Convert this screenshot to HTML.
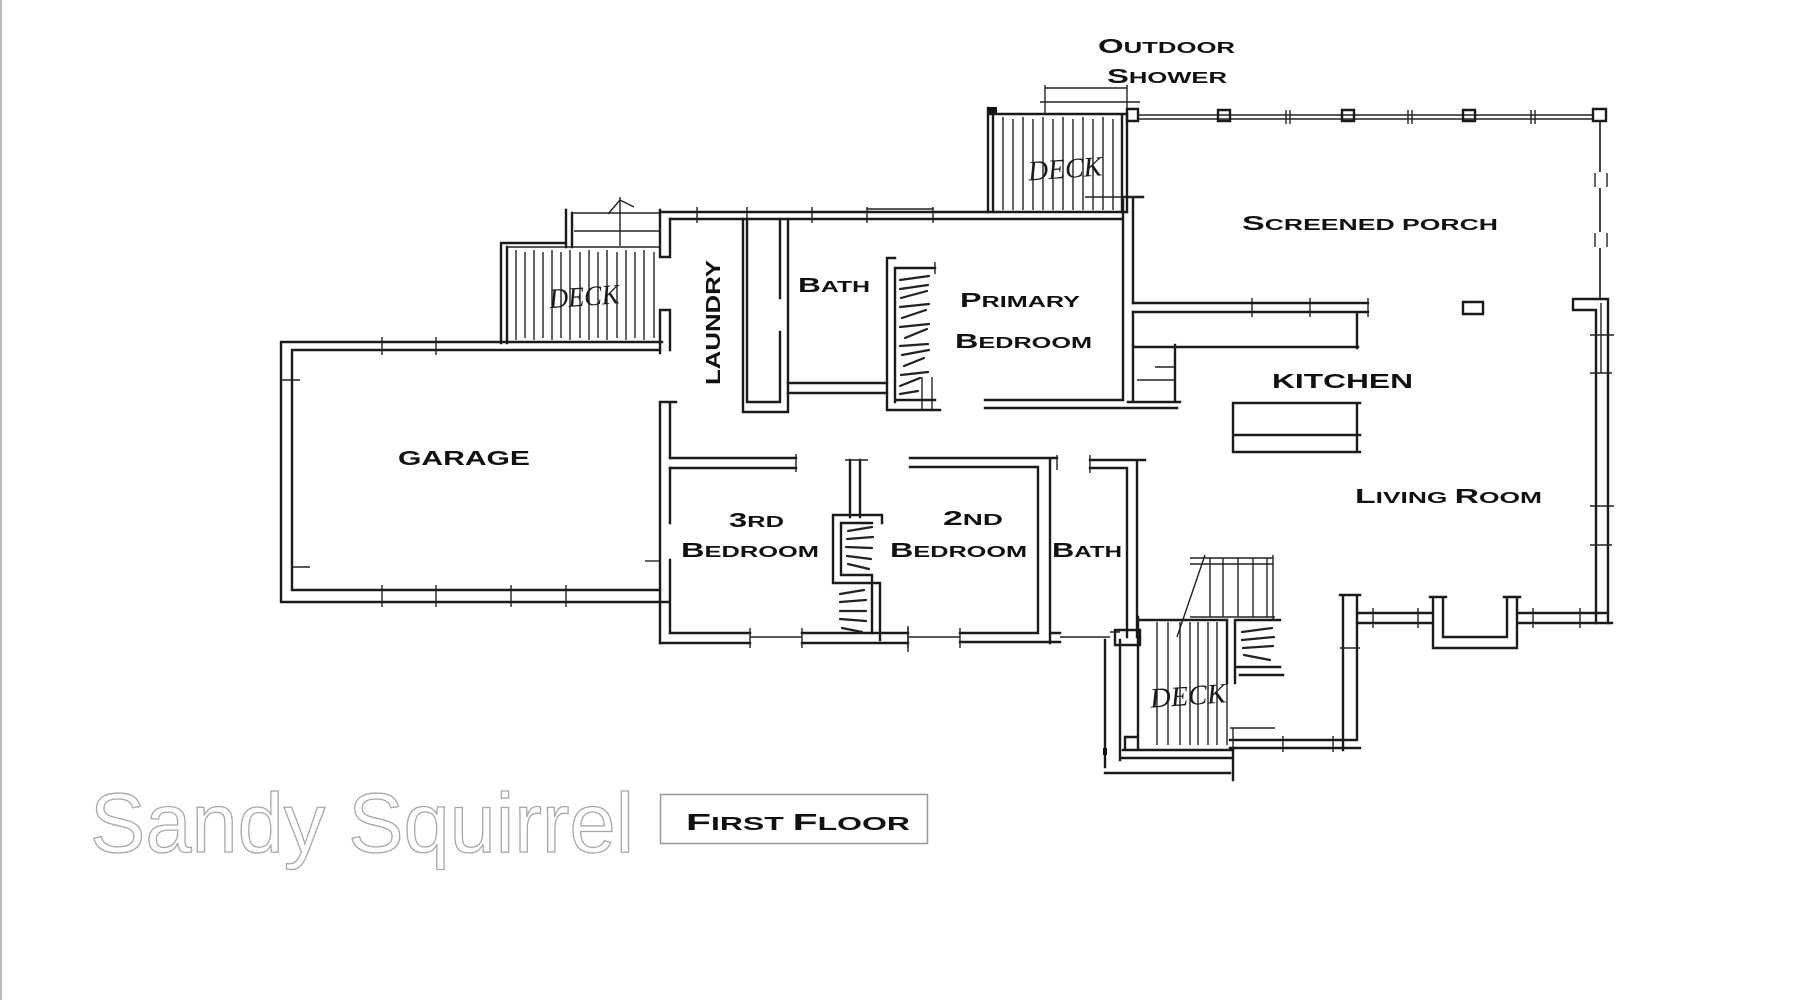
<!DOCTYPE html>
<html><head><meta charset="utf-8"><style>
html,body{margin:0;padding:0;background:#fff}
svg{display:block}
.w{stroke:#1a1a1a;stroke-width:2.4;fill:none;stroke-linecap:square}
.t{stroke:#222;stroke-width:1.4;fill:none}
.h{stroke:#222;stroke-width:2.2;fill:none;stroke-linecap:round}
.lb{font-family:"Liberation Sans",sans-serif;font-weight:bold;fill:#111}
.dk{font-family:"Liberation Serif",serif;font-style:italic;font-weight:normal;fill:#1a1a1a}
</style></head><body>
<svg width="1800" height="1000" viewBox="0 0 1800 1000" xmlns="http://www.w3.org/2000/svg">
<rect x="0" y="0" width="1800" height="1000" fill="#fff"/>
<line x1="1" y1="0" x2="1" y2="1000" stroke="#bbb" stroke-width="2"/>

<!-- GARAGE -->
<path class="w" d="M281 342 H662 M292 350 H660 M281 342 V602 M292 350 V590 M281 602 H668 M292 590 H660"/>
<path class="t" d="M382 337 V355 M436 337 V355 M382 585 V607 M436 585 V607 M511 585 V607 M566 585 V607 M281 380 H300 M293 567 H310"/>

<!-- DECK 1 -->
<path class="w" d="M501 243 V343 M507 247 V343 M501 243 H566 M566 210 V247 M572 213 V247"/>
<path class="t" d="M507 247 H660 M572 213 H660 M574 231 H660 M620 197 V246 M608 214 L620 200 L634 207"/>
<path class="t" d="M516 250 V340 M525 252 V338 M534 250 V340 M543 252 V338 M552 250 V340 M561 252 V338 M570 250 V340 M580 252 V338 M589 250 V340 M598 252 V338 M607 250 V340 M617 252 V338 M626 250 V340 M635 252 V338 M644 250 V340 M654 252 V338"/>
<text class="dk" x="549" y="306" font-size="28" textLength="70" lengthAdjust="spacingAndGlyphs" transform="rotate(-4 580 295)">DECK</text>

<!-- LAUNDRY side wall -->
<path class="w" d="M660 210 V257 M670 219 V257 M660 257 H670 M660 310 H670 M660 310 V353 M670 310 V350"/>
<path class="w" d="M660 402 V643 M670 402 V458 M660 402 H676 M670 468 V523 M670 560 V633"/>
<path class="t" d="M645 561 H660"/>

<!-- TOP WALL -->
<path class="w" d="M660 212 H1127 M670 219 H1123"/>
<path class="t" d="M697 207 V223 M747 207 V223 M812 207 V223 M867 207 V223 M933 207 V223 M867 209 H933"/>

<!-- Laundry closet / bath -->
<path class="w" d="M743 219 V412 M747 219 V402 M743 412 H788 M747 402 H780 M780 219 V298 M780 332 V402 M788 219 V412"/>
<path class="w" d="M788 383 H887 M788 393 H887"/>
<!-- primary closet -->
<path class="w" d="M887 258 V410 M895 268 V402 M887 258 H895 M895 268 H935 M887 410 H940 M895 400 H935"/>
<path class="t" d="M935 262 V274 M922 377 V410 M932 377 V410"/>
<path class="h" d="M900 280 L929 276 M900 289 L928 285 M901 298 L927 291 M900 307 L929 304 M902 318 L926 310 M900 327 L929 324 M905 338 L927 329 M900 346 L928 344 M902 355 L929 350 M904 366 L924 358 M901 375 L928 372 M900 386 L920 378 M900 394 L918 391"/>
<!-- primary bottom & right -->
<path class="w" d="M985 400 H1123 M985 408 H1177 M1123 200 V400 M1133 197 V303 M1133 312 V345 M1123 197 H1143"/>
<!-- porch/kitchen wall -->
<path class="w" d="M1133 303 H1368 M1133 312 H1368 M1357 312 V348 M1133 347 H1358"/>
<path class="t" d="M1252 298 V317 M1310 298 V317 M1368 298 V317"/>
<path class="w" d="M1133 345 V402 M1175 345 V402 M1128 402 H1180"/>
<path class="t" d="M1155 367 H1175 M1137 380 H1175"/>
<!-- island -->
<path class="w" d="M1233 403 H1360 M1233 452 H1360 M1233 403 V452 M1357 403 V452 M1233 435 H1360"/>

<!-- DECK 2 -->
<rect x="989" y="107" width="8" height="7" fill="#111"/>
<path class="w" d="M988 108 V212 M993 114 V212 M988 114 H1127 M1122 114 V212 M1127 114 V212"/>
<path class="t" d="M1003 117 V210 M1013 119 V210 M1023 117 V210 M1033 119 V210 M1043 117 V210 M1053 119 V210 M1063 117 V210 M1073 119 V210 M1083 117 V210 M1093 119 V210 M1103 117 V210 M1113 119 V210"/>
<path class="t" d="M1045 85 V114 M1127 85 V114 M1045 88 H1127 M1040 102 H1140 M1085 197 H1143"/>
<text class="dk" x="1028" y="178" font-size="28" textLength="74" lengthAdjust="spacingAndGlyphs" transform="rotate(-4 1065 168)">DECK</text>

<!-- PORCH -->
<path class="t" d="M1138 115 H1593 M1138 119 H1593"/>
<path class="w" d="M1127 109 h11 v12 h-11 z M1218 110 h12 v11 h-12 z M1342 110 h12 v11 h-12 z M1463 110 h12 v11 h-12 z M1593 109 h13 v12 h-13 z"/>
<path class="t" d="M1286 110 V124 M1290 110 V124 M1408 110 V124 M1412 110 V124 M1531 110 V124 M1535 110 V124"/>
<path d="M1600 121 V172 M1600 188 V232 M1600 248 V300" stroke="#1a1a1a" stroke-width="1.6" fill="none"/>
<path class="t" d="M1595 173 V187 M1607 173 V187 M1595 233 V247 M1607 233 V247"/>
<path class="w" d="M1463 302 h20 v12 h-20 z"/>
<path class="w" d="M1573 299 H1608 M1573 310 H1596 M1573 299 V310 M1596 310 V623 M1608 299 V623"/>
<path class="t" d="M1601 303 V373 M1590 335 H1614 M1590 373 H1612 M1590 506 H1614 M1590 545 H1612"/>

<!-- LIVING bottom -->
<path class="w" d="M1357 613 H1433 M1357 623 H1433 M1433 597 V648 H1517 V597 M1443 597 V637 H1507 V597 M1430 597 H1446 M1504 597 H1520 M1517 613 H1608 M1517 623 H1612"/>
<path class="t" d="M1373 608 V628 M1418 608 V628 M1533 608 V628 M1580 608 V628"/>
<path class="w" d="M1343 595 V750 M1357 595 V740 M1340 595 H1360 M1230 740 H1357 M1230 748 H1360"/>
<path class="t" d="M1283 736 V752 M1333 736 V752 M1230 728 H1275 M1233 728 V750 M1340 648 H1360"/>

<!-- DECK 3 -->
<path class="w" d="M1138 617 V743 M1138 620 H1227 M1123 750 H1233 M1125 737 h13 v13 h-13 z"/>
<path class="t" d="M1157 622 V745 M1168 622 V745 M1180 622 V745 M1190 622 V745 M1198 622 V745 M1208 622 V745 M1217 622 V745 M1227 620 V745"/>
<path class="t" d="M1190 558 H1273 M1190 564 H1273 M1210 558 V617 M1223 558 V617 M1238 558 V617 M1253 558 V617 M1267 558 V617 M1190 617 H1275 M1273 555 V620 M1205 555 L1177 637"/>
<path class="w" d="M1227 620 V683 M1235 620 V683 M1235 620 H1280 M1235 667 H1280 M1240 675 H1283"/>
<path class="h" d="M1242 632 L1272 628 M1242 640 L1274 637 M1243 648 L1273 646 M1244 655 L1270 660"/>
<text class="dk" x="1150" y="705" font-size="28" textLength="76" lengthAdjust="spacingAndGlyphs" transform="rotate(-4 1188 695)">DECK</text>
<path class="w" d="M1120 640 V760 M1105 640 V767 M1120 758 H1233 M1105 773 H1230 M1233 748 V780"/>
<rect x="1103" y="748" width="4" height="7" fill="#111"/>

<!-- 2nd BATH -->
<path class="w" d="M1090 460 H1145 M1090 468 H1127 M1127 468 V637 M1137 460 V637 M1115 630 H1140 V645 H1115 Z"/>
<path class="t" d="M1090 455 V473 M1060 637 H1110 M1110 632 H1120"/>

<!-- 2nd BEDROOM -->
<path class="w" d="M910 458 H1057 M910 467 H1038 M1038 467 V633 M1050 458 V643 M960 633 H1038 M960 642 H1060 M1050 633 H1060"/>
<path class="t" d="M960 628 V648 M908 628 V648 M908 637 H960 M1057 455 V470"/>

<!-- HALL & 3rd BEDROOM -->
<path class="w" d="M670 458 H796 M670 468 H796 M660 643 H750 M670 633 H750 M802 633 H908 M802 643 H908"/>
<path class="t" d="M796 454 V472 M750 628 V648 M750 637 H802 M802 628 V648 M908 626 V652"/>

<!-- closet between 3rd & 2nd -->
<path class="w" d="M850 460 V517 M860 460 V517 M833 515 H882 M841 523 H872 M882 515 V523 M833 515 V583 M841 523 V575 M841 575 H872 M833 583 H880 M872 575 V633 M880 583 V640"/>
<path class="t" d="M845 460 H868"/>
<path class="h" d="M848 531 L872 527 M847 539 L873 537 M846 547 L872 548 M847 556 L871 559 M848 564 L869 569 M840 594 L864 590 M840 602 L866 600 M840 611 L866 611 M840 619 L866 621 M842 628 L862 632"/>

<!-- LABELS -->
<text class="lb" x="1098" y="53" textLength="137" lengthAdjust="spacingAndGlyphs"><tspan font-size="20.5">O</tspan><tspan font-size="16">UTDOOR</tspan></text>
<text class="lb" x="1107" y="83" textLength="120" lengthAdjust="spacingAndGlyphs"><tspan font-size="20.5">S</tspan><tspan font-size="16">HOWER</tspan></text>
<text class="lb" x="1242" y="230" textLength="256" lengthAdjust="spacingAndGlyphs"><tspan font-size="20.5">S</tspan><tspan font-size="16">CREENED PORCH</tspan></text>
<text class="lb" x="960" y="307" textLength="120" lengthAdjust="spacingAndGlyphs"><tspan font-size="20.5">P</tspan><tspan font-size="16">RIMARY</tspan></text>
<text class="lb" x="955" y="348" textLength="137" lengthAdjust="spacingAndGlyphs"><tspan font-size="20.5">B</tspan><tspan font-size="16">EDROOM</tspan></text>
<text class="lb" x="798" y="292" textLength="72" lengthAdjust="spacingAndGlyphs"><tspan font-size="20.5">B</tspan><tspan font-size="16">ATH</tspan></text>
<text class="lb" font-size="20.5" textLength="125" lengthAdjust="spacingAndGlyphs" transform="translate(720 385) rotate(-90)" x="0" y="0">LAUNDRY</text>
<text class="lb" x="1272" y="388" font-size="20.5" textLength="141" lengthAdjust="spacingAndGlyphs">KITCHEN</text>
<text class="lb" x="398" y="465" font-size="20.5" textLength="132" lengthAdjust="spacingAndGlyphs">GARAGE</text>
<text class="lb" x="1355" y="503" textLength="187" lengthAdjust="spacingAndGlyphs"><tspan font-size="20.5">L</tspan><tspan font-size="16">IVING </tspan><tspan font-size="20.5">R</tspan><tspan font-size="16">OOM</tspan></text>
<text class="lb" x="729" y="527" textLength="55" lengthAdjust="spacingAndGlyphs"><tspan font-size="20.5">3</tspan><tspan font-size="16">RD</tspan></text>
<text class="lb" x="681" y="557" textLength="138" lengthAdjust="spacingAndGlyphs"><tspan font-size="20.5">B</tspan><tspan font-size="16">EDROOM</tspan></text>
<text class="lb" x="943" y="525" textLength="60" lengthAdjust="spacingAndGlyphs"><tspan font-size="20.5">2</tspan><tspan font-size="16">ND</tspan></text>
<text class="lb" x="890" y="557" textLength="137" lengthAdjust="spacingAndGlyphs"><tspan font-size="20.5">B</tspan><tspan font-size="16">EDROOM</tspan></text>
<text class="lb" x="1052" y="557" textLength="70" lengthAdjust="spacingAndGlyphs"><tspan font-size="20.5">B</tspan><tspan font-size="16">ATH</tspan></text>

<!-- Title -->
<text x="90" y="852" font-family="Liberation Sans, sans-serif" font-size="84" fill="#fff" stroke="#a8a8a8" stroke-width="1.3" textLength="544" lengthAdjust="spacingAndGlyphs">Sandy Squirrel</text>
<rect x="660.5" y="794.5" width="267" height="49" fill="none" stroke="#999" stroke-width="1.5"/>
<text class="lb" x="686" y="830" textLength="224" lengthAdjust="spacingAndGlyphs"><tspan font-size="23">F</tspan><tspan font-size="18">IRST </tspan><tspan font-size="23">F</tspan><tspan font-size="18">LOOR</tspan></text>
</svg>
</body></html>
